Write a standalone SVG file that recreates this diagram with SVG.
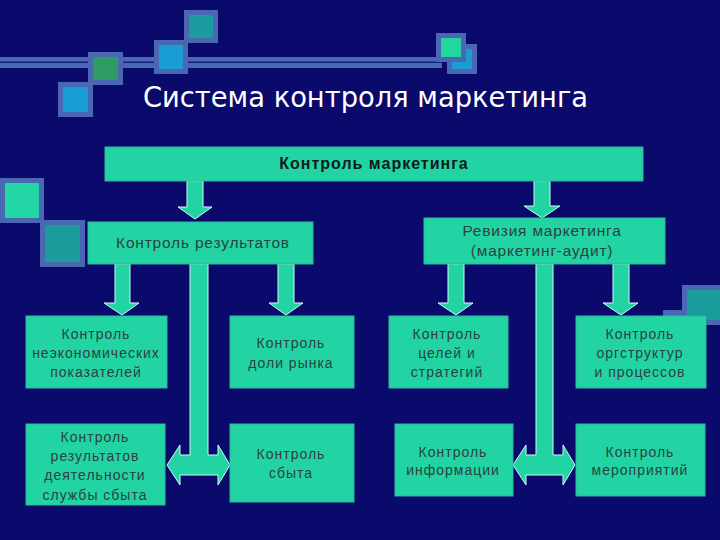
<svg xmlns="http://www.w3.org/2000/svg" width="720" height="540" viewBox="0 0 720 540">
<style>
.bg{fill:#0a0a6c}
.frame{fill:#4a68b2}
.box{fill:#22d3a4;stroke:#2fb79a;stroke-width:1}
.arrow{fill:#22d3a4;stroke:#c8fff0;stroke-width:1}
.t{font-family:"Liberation Sans",Arial,sans-serif;font-size:14px;fill:#2a433e;text-anchor:middle;letter-spacing:1px}
.m{font-size:15.5px;letter-spacing:0.8px}
.title{font-family:"DejaVu Sans","Liberation Sans",sans-serif;font-size:29px;fill:#ffffff}
.head{font-family:"Liberation Sans",Arial,sans-serif;font-size:16px;font-weight:bold;fill:#0c1c1a;text-anchor:middle;letter-spacing:1px}
</style>
<rect class="bg" x="0" y="0" width="720" height="540"/>

<g id="decor">
  <rect class="frame" x="0" y="57" width="442" height="11"/>
  <rect x="0" y="61.5" width="442" height="1.5" fill="#14207e"/>
  <rect class="frame" x="184" y="10" width="34" height="33"/>
  <rect x="189" y="15" width="24" height="23" fill="#1a9c9e"/>
  <rect class="frame" x="154" y="40" width="34" height="34"/>
  <rect x="159" y="45" width="24" height="24" fill="#1a9cd4"/>
  <rect class="frame" x="88" y="52" width="35" height="33"/>
  <rect x="93" y="57" width="25" height="23" fill="#2e9c62"/>
  <rect class="frame" x="58" y="82" width="35" height="35"/>
  <rect x="63" y="87" width="25" height="25" fill="#1a9cd4"/>
  <rect class="frame" x="447" y="44" width="30" height="30"/>
  <rect x="452" y="49" width="20" height="20" fill="#1a9cd4"/>
  <rect class="frame" x="436" y="33" width="30" height="29"/>
  <rect x="441" y="38" width="20" height="19" fill="#22d6a0"/>
  <rect class="frame" x="0" y="178" width="44" height="45"/>
  <rect x="5" y="183" width="34" height="35" fill="#22d6a6"/>
  <rect class="frame" x="40" y="220" width="45" height="47"/>
  <rect x="45" y="225" width="35" height="37" fill="#1a9c9c"/>
  <rect class="frame" x="663" y="310" width="40" height="40"/>
  <rect class="frame" x="682" y="285" width="40" height="40"/>
  <rect x="687" y="290" width="35" height="30" fill="#1a9c9c"/>
</g>

<text class="title" x="143" y="107" textLength="445" lengthAdjust="spacingAndGlyphs">Система контроля маркетинга</text>

<g id="connectors">
  <path class="arrow" d="M187,181 V207 H178 L195,219 L212,207 H203 V181 Z"/>
  <path class="arrow" d="M534,181 V206 H524 L542,218 L560,206 H550 V181 Z"/>
  <path class="arrow" d="M115,264 V303 H104 L122,315 L139,303 H130 V264 Z"/>
  <path class="arrow" d="M278,264 V303 H269 L286,315 L303,303 H294 V264 Z"/>
  <path class="arrow" d="M448,264 V303 H438 L456,315 L473,303 H464 V264 Z"/>
  <path class="arrow" d="M613,264 V303 H603 L621,315 L638,303 H629 V264 Z"/>
  <path class="arrow" d="M190,264 H208 V455 H218 V445 L230,465 L218,485 V475 H180 V485 L167,465 L180,445 V455 H190 Z"/>
  <path class="arrow" d="M536,264 H553 V455 H563 V445 L575,465 L563,485 V475 H526 V485 L513,465 L526,445 V455 H536 Z"/>
</g>

<g id="n-top">
  <rect class="box" x="105" y="147" width="538" height="34"/>
  <text class="head" x="374" y="169">Контроль маркетинга</text>
</g>
<g id="n-results">
  <rect class="box" x="88" y="222" width="225" height="42"/>
  <text class="t m" x="203" y="248">Контроль результатов</text>
</g>
<g id="n-revision">
  <rect class="box" x="424" y="218" width="241" height="46"/>
  <text class="t m" x="542" y="236">Ревизия маркетинга</text>
  <text class="t m" x="542" y="256">(маркетинг-аудит)</text>
</g>
<g id="n-a">
  <rect class="box" x="26" y="316" width="141" height="72"/>
  <text class="t" x="96" y="339">Контроль</text>
  <text class="t" x="96" y="358">неэкономических</text>
  <text class="t" x="96" y="377">показателей</text>
</g>
<g id="n-b">
  <rect class="box" x="230" y="316" width="124" height="72"/>
  <text class="t" x="291" y="348">Контроль</text>
  <text class="t" x="291" y="368">доли рынка</text>
</g>
<g id="n-c">
  <rect class="box" x="389" y="316" width="119" height="72"/>
  <text class="t" x="447" y="339">Контроль</text>
  <text class="t" x="447" y="358">целей и</text>
  <text class="t" x="447" y="377">стратегий</text>
</g>
<g id="n-d">
  <rect class="box" x="576" y="316" width="130" height="72"/>
  <text class="t" x="640" y="339">Контроль</text>
  <text class="t" x="640" y="358">оргструктур</text>
  <text class="t" x="640" y="377">и процессов</text>
</g>
<g id="n-e">
  <rect class="box" x="26" y="424" width="139" height="81"/>
  <text class="t" x="95" y="442">Контроль</text>
  <text class="t" x="95" y="461">результатов</text>
  <text class="t" x="95" y="480">деятельности</text>
  <text class="t" x="95" y="500">службы сбыта</text>
</g>
<g id="n-f">
  <rect class="box" x="230" y="424" width="124" height="78"/>
  <text class="t" x="291" y="459">Контроль</text>
  <text class="t" x="291" y="478">сбыта</text>
</g>
<g id="n-g">
  <rect class="box" x="395" y="424" width="118" height="72"/>
  <text class="t" x="453" y="457">Контроль</text>
  <text class="t" x="453" y="475">информации</text>
</g>
<g id="n-h">
  <rect class="box" x="576" y="424" width="129" height="72"/>
  <text class="t" x="640" y="457">Контроль</text>
  <text class="t" x="640" y="475">мероприятий</text>
</g>
</svg>
